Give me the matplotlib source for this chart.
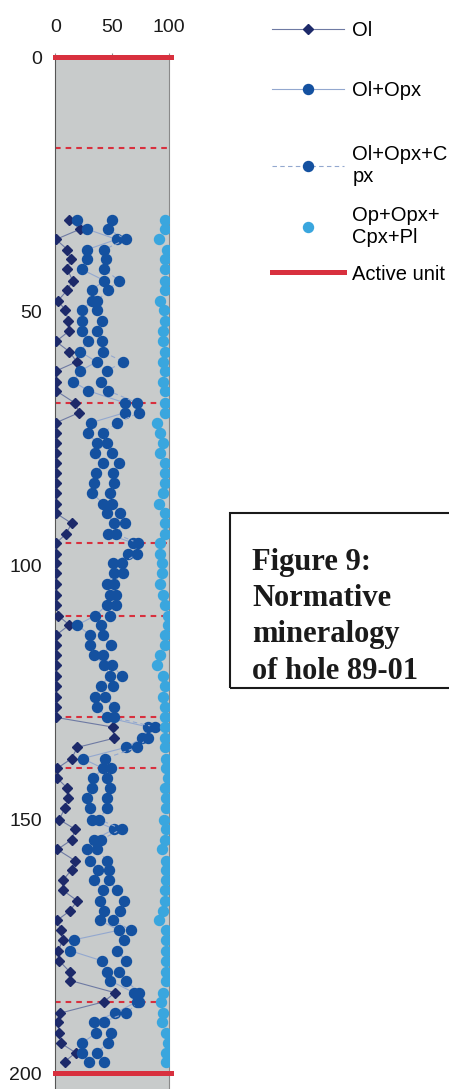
import matplotlib
matplotlib.use('Agg')
import matplotlib.pyplot as plt
from matplotlib.patches import Rectangle

# Sample depths down hole 89-01
depth = [32.0, 33.9, 35.9, 37.9, 39.8, 41.8, 44.0, 45.9, 48.0, 49.8,
         52.0, 53.9, 56.0, 58.0, 60.0, 61.8, 63.9, 65.7, 68.1, 70.0,
         72.0, 74.0, 76.0, 78.0, 80.0, 81.9, 83.8, 85.9, 87.9, 89.8,
         91.8, 93.9, 95.7, 97.8, 99.7, 101.6, 103.7, 105.9, 107.9, 110.0,
         111.8, 113.8, 115.7, 117.7, 119.7, 121.8, 123.8, 125.9, 127.9, 130.0,
         131.9, 134.1, 135.9, 138.1, 140.0, 142.0, 143.8, 145.8, 147.8, 150.1,
         152.0, 154.1, 156.0, 158.2, 160.0, 162.1, 164.0, 166.1, 168.1, 169.9,
         171.9, 173.8, 175.9, 177.9, 180.1, 181.8, 184.2, 186.0, 188.2, 189.9,
         192.1, 194.1, 196.0, 197.8]

# Cumulative normative mineralogy (%)
ol = [12.1, 21.8, 0.6, 10.6, 13.6, 10.6, 15.3, 10.6, 2.2, 8.9,
      11.5, 12.4, 0.6, 12.4, 18.8, 0.6, 1.0, 0.6, 17.3, 21.1,
      0.6, 0.6, 0.6, 0.6, 0.6, 0.6, 0.6, 0.6, 0.6, 0.6,
      14.4, 9.4, 0.6, 0.6, 0.6, 0.6, 0.6, 0.6, 0.6, 2.7,
      12.4, 0.6, 0.6, 0.6, 0.6, 0.6, 0.6, 0.6, 0.6, 0.6,
      50.6, 51.8, 19.4, 14.4, 1.8, 1.8, 10.0, 11.5, 8.6, 3.5,
      17.4, 14.4, 1.8, 17.4, 14.4, 6.5, 6.5, 19.4, 12.8, 1.8,
      4.7, 6.5, 2.7, 3.5, 12.8, 13.3, 52.6, 42.6, 4.4, 2.2,
      3.5, 4.7, 17.9, 8.2]

ol_opx = [18.8, 28.2, 54.0, 28.2, 28.2, 23.3, 43.2, 32.1, 32.0, 23.3,
          23.3, 23.3, 29.1, 21.8, 36.5, 21.8, 15.9, 29.1, 61.5, 61.5,
          31.4, 28.7, 36.5, 35.0, 42.2, 36.3, 34.1, 32.6, 42.2, 45.3,
          51.8, 46.7, 68.8, 64.4, 51.1, 51.8, 45.3, 48.2, 45.3, 35.0,
          19.4, 30.6, 30.6, 34.1, 43.0, 48.2, 40.0, 35.0, 37.0, 45.3,
          82.0, 76.2, 62.3, 24.1, 41.8, 33.5, 32.1, 27.7, 30.6, 32.1,
          51.8, 34.1, 27.7, 30.6, 38.0, 34.1, 42.4, 39.1, 43.1, 39.1,
          55.9, 16.2, 12.8, 40.9, 45.9, 48.2, 69.4, 71.7, 52.6, 34.5,
          36.2, 23.7, 23.3, 29.5]

ol_opx_cpx = [49.7, 46.2, 62.3, 43.2, 44.7, 43.2, 56.2, 46.2, 37.0, 37.0,
              41.0, 37.0, 40.9, 41.8, 60.0, 45.3, 40.3, 46.7, 72.3, 74.1,
              54.7, 41.8, 45.3, 49.7, 56.4, 51.1, 51.8, 48.2, 49.7, 57.1,
              61.5, 53.5, 73.2, 72.3, 58.6, 59.4, 51.8, 53.5, 53.5, 48.2,
              40.0, 41.8, 48.8, 41.8, 49.7, 58.6, 50.6, 43.8, 51.8, 51.8,
              87.9, 82.0, 71.8, 43.8, 48.8, 45.3, 48.2, 45.3, 45.3, 38.8,
              58.6, 40.0, 37.0, 45.3, 47.6, 47.6, 54.1, 60.6, 57.1, 50.8,
              66.8, 60.6, 54.1, 62.3, 55.9, 62.3, 74.1, 74.1, 62.3, 42.6,
              49.0, 46.3, 36.5, 43.0]

ol_opx_cpx_pl = [96.5, 96.5, 91.7, 98.8, 96.5, 96.5, 96.5, 96.5, 92.0, 96.0,
                 96.5, 95.2, 95.2, 96.7, 95.2, 96.7, 95.2, 96.7, 96.7, 96.7,
                 89.4, 92.3, 95.2, 92.3, 96.7, 96.7, 96.7, 95.2, 91.7, 96.7,
                 96.7, 96.7, 92.3, 92.3, 93.8, 93.8, 92.3, 95.2, 96.7, 99.6,
                 99.6, 96.7, 96.7, 92.3, 89.4, 95.2, 96.7, 95.2, 96.7, 96.7,
                 96.7, 96.7, 96.7, 97.6, 97.6, 99.6, 96.7, 97.6, 97.6, 95.9,
                 97.6, 96.7, 93.8, 97.6, 97.6, 97.6, 96.7, 96.7, 94.7, 91.1,
                 97.6, 97.6, 97.6, 97.6, 97.6, 97.6, 95.2, 92.9, 94.6, 93.8,
                 97.6, 99.6, 97.6, 97.6]

# Unit boundaries and the active unit limits
unit_tops = [18.0, 68.1, 95.7, 110.0, 130.0, 140.0, 186.0]
active_limits = [0, 200]
active_span = [0, 102]

x_ticks = [0, 50, 100]
y_ticks = [0, 50, 100, 150, 200]

NAVY = '#1d2a6a'
BLUE = '#1451a0'
LIGHT = '#3aa6de'
RED = '#d8303e'
PANEL = '#c8cbcb'

plt.rcParams['font.family'] = ['Liberation Sans', 'DejaVu Sans']

W, H = 449, 1089
fig = plt.figure(figsize=(W / 100, H / 100), dpi=100)
fig.patch.set_facecolor('white')

top_px, px_per_unit = 57, 5.08
y_bottom = (H - top_px) / px_per_unit
ax = fig.add_axes([55.3 / W, 0, 113.4 / W, (H - top_px) / H])
ax.set_facecolor(PANEL)
ax.set_xlim(0, 100)
ax.set_ylim(y_bottom, 0)

# unit boundaries
for d in unit_tops:
    ax.plot(active_span, [d, d], color=RED, lw=1.5, ls=(0, (2.7, 2.4)),
            clip_on=False, zorder=1.5)

ol_line, = ax.plot(ol, depth, color='#6e7aa3', lw=0.8, marker='D', ms=4.9,
                   mfc=NAVY, mec=NAVY, zorder=3)
opx_line, = ax.plot(ol_opx, depth, color='#93a8cf', lw=0.8, marker='o', ms=7.2,
                    mfc=BLUE, mec=BLUE, zorder=3)
cpx_line, = ax.plot(ol_opx_cpx, depth, color='#93a8cf', lw=0.8, ls=(0, (4, 3)),
                    marker='o', ms=7.2, mfc=BLUE, mec=BLUE, zorder=3)
pl_line, = ax.plot(ol_opx_cpx_pl, depth, ls='none', marker='o', ms=7.2,
                   mfc=LIGHT, mec=LIGHT, zorder=3)

for d in active_limits:
    active_line, = ax.plot(active_span, [d, d], color=RED, lw=3.6,
                           solid_capstyle='projecting', clip_on=False, zorder=4)

# axes styling
ax.xaxis.tick_top()
ax.set_xticks(x_ticks)
ax.set_yticks(y_ticks)
ax.tick_params(axis='x', length=3, width=0.8, color='#8a8a8a', pad=12,
               labelsize=14, labelcolor='#1a1a1a')
ax.tick_params(axis='y', length=0, pad=9.5, labelsize=14, labelcolor='#1a1a1a')
ax.spines['left'].set_color('#555555')
ax.spines['right'].set_color('#8a8a8a')
ax.spines['top'].set_visible(False)
ax.spines['bottom'].set_visible(False)

# legend, one entry per row to the right of the log
entries = [
    (ol_line, 'Ol', 30.7),
    (opx_line, 'Ol+Opx', 90.7),
    (cpx_line, 'Ol+Opx+C\npx', 165.8),
    (pl_line, 'Op+Opx+\nCpx+Pl', 226.3),
    (active_line, 'Active unit', 274.0),
]
for handle, label, y_px in entries:
    fig.legend([handle], [label], loc='center left',
               bbox_to_anchor=(271.7 / W, 1 - y_px / H),
               frameon=False, fontsize=14.5, handlelength=3.6,
               handletextpad=0.4, borderpad=0, borderaxespad=0,
               numpoints=1, labelspacing=0.1)

# caption box
fig.add_artist(Rectangle((230 / W, 1 - 688 / H), 230 / W, 175 / H,
                         transform=fig.transFigure, fill=False,
                         edgecolor='#1a1a1a', lw=1.5, clip_on=False))
caption = ['Figure 9:', 'Normative', 'mineralogy', 'of hole 89-01']
baselines = [570, 606, 642, 679]
for line, y_px in zip(caption, baselines):
    fig.text(252 / W, 1 - y_px / H, line, family='Liberation Serif',
             weight='bold', fontsize=22, color='#1a1a1a', va='baseline')

fig.savefig('out.png', dpi=100)
